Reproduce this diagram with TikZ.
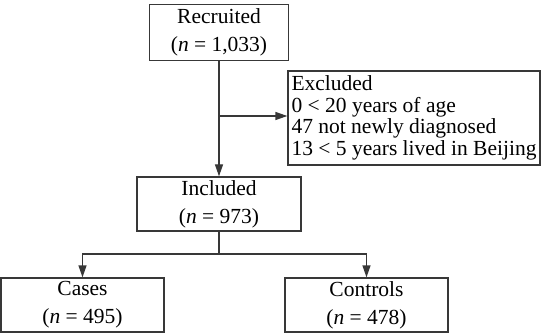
\documentclass[tikz,border=0pt]{standalone}
\usepackage{fontspec}
\setmainfont{Liberation Serif}
\usetikzlibrary{arrows.meta}
\begin{document}
\begin{tikzpicture}[x=1pt,y=-1pt,
  box/.style={draw=black!78,line width=1.3pt,rectangle,inner sep=0pt,align=center,
    font=\fontsize{21.5}{28}\selectfont},
  conn/.style={draw=black!78,line width=1.3pt},
  arr/.style={conn,-{Triangle[length=12pt,width=8pt]}}]
\useasboundingbox (0,0) rectangle (541,334);
\node[box,minimum width=139pt,minimum height=56pt] (rec) at (219,32.5) {Recruited\\(\textit{n} = 1,033)};
\node[box,minimum width=164pt,minimum height=54pt] (inc) at (219,204) {Included\\(\textit{n} = 973)};
\node[box,minimum width=163pt,minimum height=54pt] (cas) at (82.5,305) {Cases\\(\textit{n} = 495)};
\node[box,minimum width=163pt,minimum height=54pt] (con) at (366.5,305) {Controls\\(\textit{n} = 478)};
\node[box,align=left,minimum width=252pt,minimum height=94pt,font=\fontsize{21.5}{21.5}\selectfont] (exc) at (414,118)
  {Excluded\\0 < 20 years of age\\47 not newly diagnosed\\13 < 5 years lived in Beijing};
\coordinate (b) at (219,116);
\coordinate (j) at (219,254);
\draw[arr] (rec.south) -- (inc.north);
\draw[arr] (b) -- (b -| exc.west);
\draw[conn] (inc.south) -- (j);
\draw[arr] (j) -| (cas.north);
\draw[arr] (j) -| (con.north);
\end{tikzpicture}
\end{document}
